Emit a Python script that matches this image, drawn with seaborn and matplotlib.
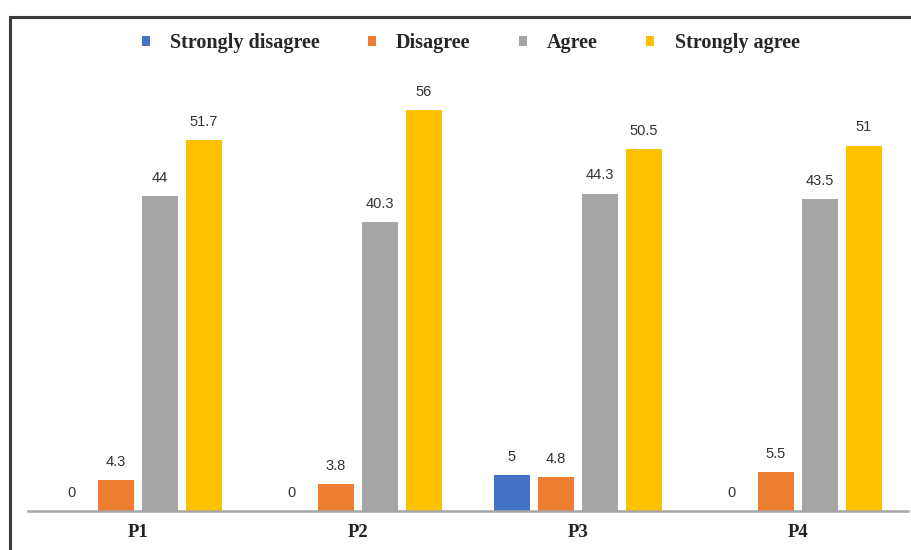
import matplotlib
matplotlib.use("Agg")
import matplotlib.pyplot as plt
from matplotlib.patches import Rectangle
import seaborn as sns
import pandas as pd

categories = ["P1", "P2", "P3", "P4"]
series_names = ["Strongly disagree", "Disagree", "Agree", "Strongly agree"]
strongly_disagree = [0, 0, 5, 0]
disagree = [4.3, 3.8, 4.8, 5.5]
agree = [44, 40.3, 44.3, 43.5]
strongly_agree = [51.7, 56, 50.5, 51]
colors = ["#4472C4", "#ED7D31", "#A5A5A5", "#FFC000"]

values = [strongly_disagree, disagree, agree, strongly_agree]
rows = []
for name, vals in zip(series_names, values):
    for cat, v in zip(categories, vals):
        rows.append({"Item": cat, "Response": name, "Percent": v})
df = pd.DataFrame(rows)

sns.set_theme(style="white")
fig = plt.figure(figsize=(9.12, 5.5), dpi=100)
ax = fig.add_axes([0.0307, 0.0709, 0.9649, 0.7818])

sns.barplot(data=df, x="Item", y="Percent", hue="Response", order=categories,
            hue_order=series_names, palette=colors, width=0.8, gap=0.2,
            saturation=1, edgecolor="none", legend=False, ax=ax)

ax.set_ylim(0, 60)
ax.set_xlim(-0.5, 3.5)
ax.set_xlabel("")
ax.set_ylabel("")
ax.set_yticks([])
for s in ["top", "left", "right"]:
    ax.spines[s].set_visible(False)
ax.spines["bottom"].set_color("#a6a6a6")
ax.spines["bottom"].set_linewidth(1.8)
ax.tick_params(axis="x", length=0, pad=9)
for lbl in ax.get_xticklabels():
    lbl.set_fontfamily("Liberation Serif")
    lbl.set_fontweight("bold")
    lbl.set_fontsize(13.5)
    lbl.set_color("#222222")

for container in ax.containers:
    for bar in container:
        h = bar.get_height()
        x = bar.get_x() + bar.get_width() / 2
        txt = f"{h:g}"
        ax.annotate(txt, (x, h), xytext=(0, 13), textcoords="offset points",
                    ha="center", va="center", fontsize=10.5,
                    fontfamily="Liberation Sans", color="#333333")

handles = [Rectangle((0, 0), 1, 1, facecolor=c, edgecolor="none") for c in colors]
fig.legend(handles, series_names, loc="center", bbox_to_anchor=(0.516, 0.922),
           ncol=4, frameon=False, handlelength=0.4, handleheight=0.4,
           handletextpad=1.0, columnspacing=2.4,
           prop={"family": "Liberation Serif", "weight": "bold", "size": 14.5})

border = Rectangle((0.011, -0.1), 1.2, 0.969 + 0.1, transform=fig.transFigure,
                   fill=False, edgecolor="#3a3a3a", linewidth=2.2, clip_on=False)
fig.patches.append(border)

fig.savefig("out.png", dpi=100, facecolor="white")
